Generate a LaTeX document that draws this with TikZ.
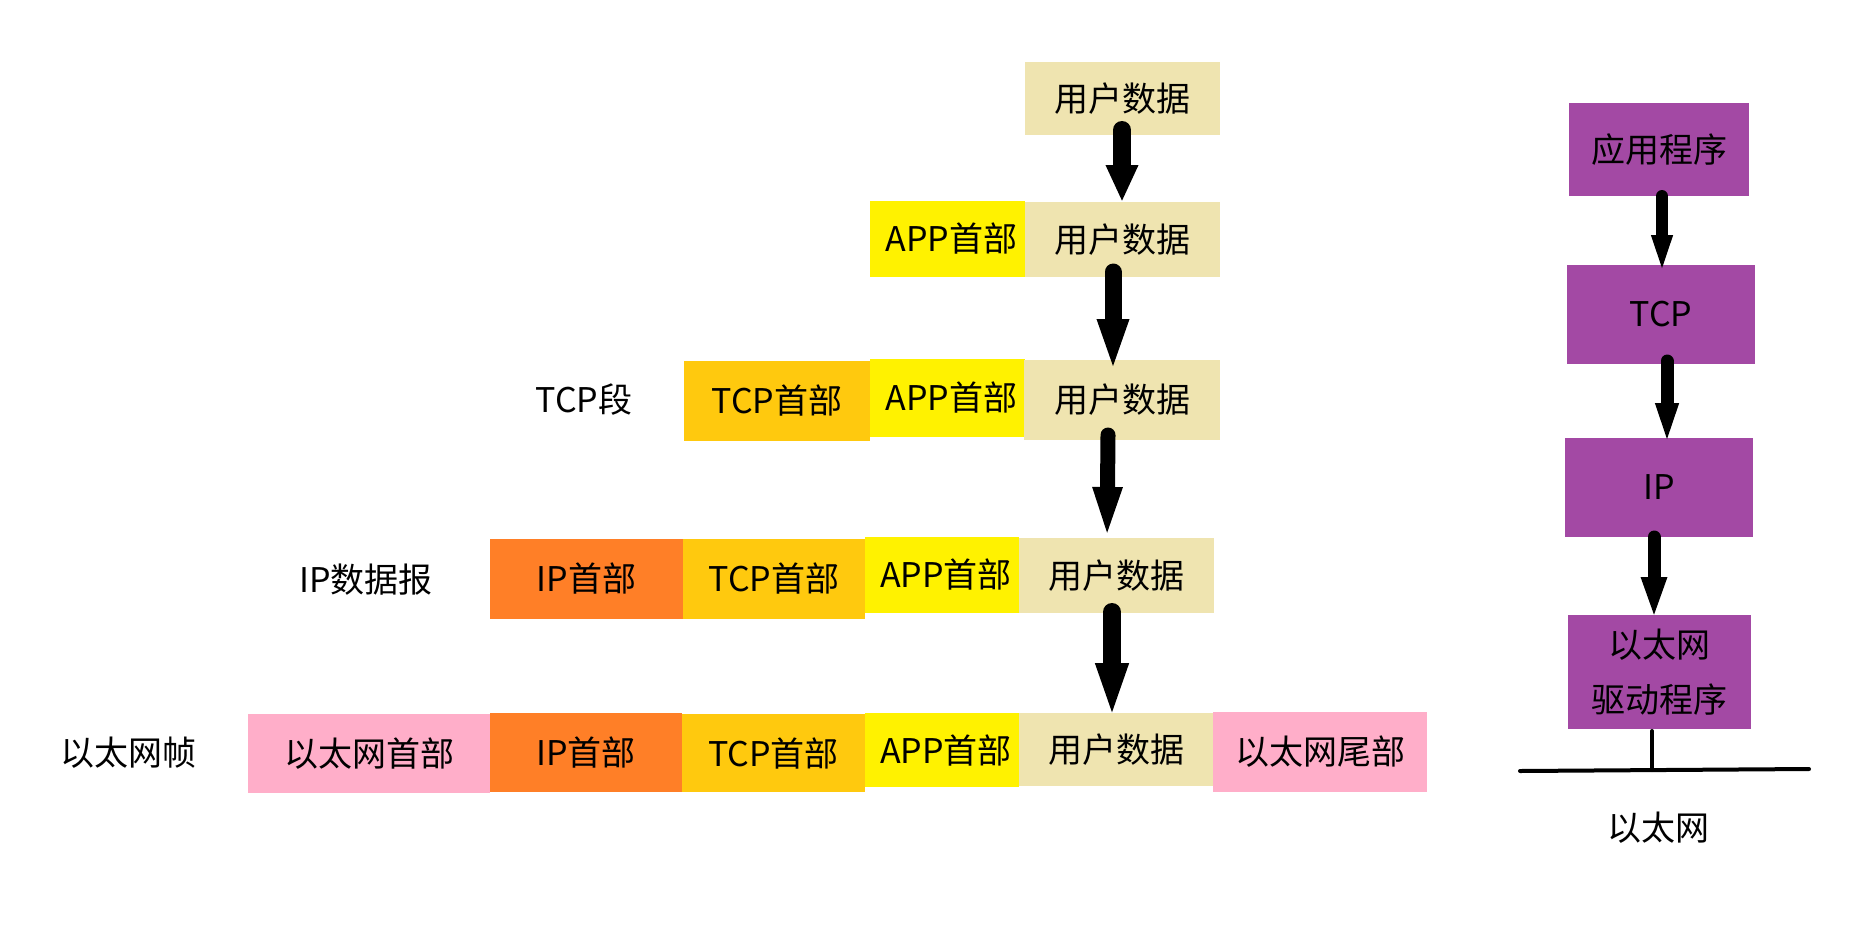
\documentclass[tikz,border=0pt]{standalone}
\usepackage{fontspec}
\setmainfont{Noto Sans CJK SC}
\usetikzlibrary{arrows.meta,calc}
\definecolor{udata}{RGB}{239,228,176}
\definecolor{apph}{RGB}{255,242,0}
\definecolor{tcph}{RGB}{255,201,14}
\definecolor{iph}{RGB}{255,127,39}
\definecolor{ethh}{RGB}{255,174,201}
\definecolor{layer}{RGB}{163,73,164}
\begin{document}
\begin{tikzpicture}[x=1pt,y=-1pt,
  blk/.style={inner sep=0pt, outer sep=0pt, font=\fontsize{34}{40}\selectfont, text=black},
  lbl/.style={inner sep=0pt, font=\fontsize{34}{40}\selectfont, text=black},
  bigarr/.style n args={3}{draw=black, line width=#1pt, line cap=round, -{Triangle[width=#2pt,length=#3pt]}},
  netline/.style={draw=black, line width=4pt, line cap=round},
]
\useasboundingbox (0,0) rectangle (1876,935);

% row 1
\node[blk, fill=udata, minimum width=195pt, minimum height=73pt] (u1) at (1122.5,98.5) {用户数据};
% row 2
\node[blk, fill=apph, minimum width=155pt, minimum height=76pt] (a2) at (947.5,239) {\hspace*{8pt}APP首部};
\node[blk, fill=udata, minimum width=195pt, minimum height=75pt] (u2) at (1122.5,239.5) {用户数据};
% row 3
\node[blk, fill=tcph, minimum width=186pt, minimum height=80pt] (t3) at (777,401) {TCP首部};
\node[blk, fill=apph, minimum width=155pt, minimum height=78pt] (a3) at (947.5,398) {\hspace*{8pt}APP首部};
\node[blk, fill=udata, minimum width=196pt, minimum height=80pt] (u3) at (1122,400) {用户数据};
% row 4
\node[blk, fill=iph, minimum width=193pt, minimum height=80pt] (i4) at (586.5,579) {IP首部};
\node[blk, fill=tcph, minimum width=182pt, minimum height=80pt] (t4) at (774,579) {TCP首部};
\node[blk, fill=apph, minimum width=154pt, minimum height=76pt] (a4) at (942,575) {\hspace*{8pt}APP首部};
\node[blk, fill=udata, minimum width=195pt, minimum height=75pt] (u4) at (1116.5,575.5) {用户数据};
% row 5
\node[blk, fill=ethh, minimum width=242pt, minimum height=79pt] (e5) at (369,753.5) {以太网首部};
\node[blk, fill=iph, minimum width=192pt, minimum height=79pt] (i5) at (586,752.5) {IP首部};
\node[blk, fill=tcph, minimum width=183pt, minimum height=78pt] (t5) at (773.5,753) {TCP首部};
\node[blk, fill=apph, minimum width=154pt, minimum height=74pt] (a5) at (942,750) {\hspace*{8pt}APP首部};
\node[blk, fill=udata, minimum width=194pt, minimum height=73pt] (u5) at (1116,749.5) {用户数据};
\node[blk, fill=ethh, minimum width=214pt, minimum height=80pt] (et5) at (1320,752) {以太网尾部};

% row labels
\node[lbl] (l3) at (584,400) {TCP段};
\node[lbl] (l4) at (366,580) {IP数据报};
\node[lbl] (l5) at (128,753) {以太网帧};

% main arrows
\draw[bigarr={18}{30}{37}] ($(u1.south)+(-0.5,-5)$) -- ($(u2.north)+(-0.5,0)$);
\draw[bigarr={17}{28}{53}] ($(u2.south)+(-9.5,-5)$) -- ($(u3.north)+(-9,12)$);
\draw[bigarr={15}{25}{56}] ($(u3.south)+(-14,-5)$) -- ($(u4.north)+(-9.5,5)$);
\draw[bigarr={18}{29}{56}] ($(u4.south)+(-4.5,-1)$) -- ($(u5.north)+(-4,6)$);

% right column
\node[blk, fill=layer, minimum width=180pt, minimum height=93pt] (app) at (1659,149.5) {应用程序};
\node[blk, fill=layer, minimum width=188pt, minimum height=99pt] (tcp) at (1661,314.5) {TCP};
\node[blk, fill=layer, minimum width=188pt, minimum height=99pt] (ip) at (1659,487.5) {IP};
\node[blk, fill=layer, minimum width=183pt, minimum height=114pt, align=center,
      font=\fontsize{34}{55}\selectfont] (eth) at (1659.5,672) {以太网\\驱动程序};

\draw[bigarr={12}{18}{41}] ($(app.south)+(3,0)$) -- ($(tcp.north)+(1,11)$);
\draw[bigarr={13}{20}{43}] ($(tcp.south)+(6,-3)$) -- ($(ip.north)+(8,8)$);
\draw[bigarr={13}{23}{42}] ($(ip.south)+(-5,0)$) -- ($(eth.north)+(-5.5,4)$);

% network line
\coordinate (nl) at (1520,771);
\coordinate (nr) at (1809,769);
\coordinate (nj) at (1652,770);
\draw[netline] (nl) -- (nr);
\draw[netline] ($(eth.south)+(-7.5,2)$) -- (nj);
\node[lbl] (net) at (1658,828) {以太网};
\end{tikzpicture}
\end{document}
